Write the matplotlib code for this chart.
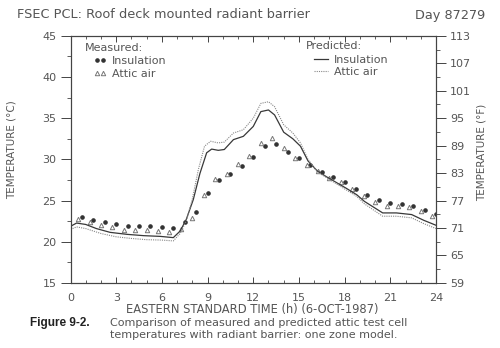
import numpy as np
import matplotlib
matplotlib.use("Agg")
import matplotlib.pyplot as plt
from matplotlib.ticker import MultipleLocator

# predicted curves
pred_ins_h = [0, 0.4, 1.0, 1.7, 2.6, 3.7, 4.8, 5.9, 6.75, 7.2, 7.6, 8.06, 8.5, 8.94,
              9.27, 9.7, 10.1, 10.7, 11.35, 12.0, 12.5, 13.0, 13.4, 14.0, 14.6, 15.1,
              15.6, 16.2, 16.8, 18.1, 18.8, 19.3, 20.5, 21.4, 22.4, 23.2, 24]
pred_ins_t = [21.87, 22.27, 22.1, 21.6, 21.14, 20.9, 20.74, 20.65, 20.5, 21.3, 22.7,
              25.1, 28.3, 30.8, 31.25, 31.1, 31.2, 32.4, 32.8, 34.0, 35.8, 36.0, 35.4,
              33.3, 32.5, 31.6, 29.8, 28.6, 27.9, 26.5, 25.7, 24.9, 23.5, 23.5, 23.3,
              22.6, 22.0]
pred_air_h = [0, 0.4, 1.0, 2.0, 3.0, 4.0, 5.0, 6.0, 6.75, 7.2, 7.6, 8.0, 8.4, 8.8,
              9.2, 9.7, 10.1, 10.7, 11.35, 12.0, 12.5, 13.0, 13.4, 14.0, 14.6, 15.1,
              15.6, 16.2, 16.8, 18.1, 18.8, 19.3, 20.5, 21.4, 22.4, 23.2, 24]
pred_air_t = [21.5, 21.8, 21.6, 21.0, 20.6, 20.4, 20.25, 20.2, 20.1, 21.0, 22.5, 25.2,
              28.8, 31.6, 32.2, 32.0, 32.1, 33.2, 33.6, 35.0, 36.8, 37.0, 36.4, 34.2,
              33.2, 32.0, 30.0, 28.5, 27.8, 26.3, 25.5, 24.6, 23.1, 23.1, 22.9, 22.2,
              21.6]

# measured, every 45 min
meas_air_h = np.arange(0.5, 24, 0.75)
meas_ins_h = meas_air_h + 0.25
meas_air_t = [22.76, 22.44, 22.07, 21.74, 21.47, 21.47, 21.47, 21.26, 21.14, 21.55,
              22.88, 25.71, 27.65, 28.26, 29.47, 30.36, 31.98, 32.54, 31.37, 30.16,
              29.35, 28.54, 27.74, 27.25, 26.40, 25.51, 24.78, 24.29, 24.29, 24.17,
              23.77, 23.08]
meas_ins_t = [23.0, 22.68, 22.44, 22.16, 21.95, 21.95, 21.95, 21.79, 21.71, 22.35,
              23.65, 25.92, 27.49, 28.26, 29.23, 30.28, 31.66, 31.90, 30.85, 30.16,
              29.27, 28.42, 27.81, 27.25, 26.40, 25.63, 25.02, 24.70, 24.58, 24.38,
              23.89, 23.37]

f_ticks = np.arange(59, 114, 6)

ink = '#444444'
txt = '#555555'
plt.rcParams['font.family'] = ['DejaVu Sans']

fig = plt.figure(figsize=(5, 3.48), dpi=100)
ax = fig.add_axes([0.141, 0.187, 0.731, 0.710])

m1, = ax.plot(meas_ins_h, meas_ins_t, ls='none', marker='o', ms=2.3, color='#333333')
m2, = ax.plot(meas_air_h, meas_air_t, ls='none', marker='^', ms=3.2, mfc='white',
              mec='#777777', mew=0.7)
p1, = ax.plot(pred_ins_h, pred_ins_t, color='#383838', lw=0.9)
p2, = ax.plot(pred_air_h, pred_air_t, color='#888888', lw=0.8, ls=(0, (1, 1)))

ax.set_xlim(0, 24)
ax.set_ylim(15, 45)
ax.xaxis.set_major_locator(MultipleLocator(3))
ax.xaxis.set_minor_locator(MultipleLocator(1))
ax.yaxis.set_major_locator(MultipleLocator(5))
ax.yaxis.set_minor_locator(MultipleLocator(2.5))
ax.tick_params(axis='x', which='both', direction='in', top=True, colors=ink,
               labelcolor=txt, labelsize=8, pad=7)
ax.tick_params(axis='x', which='major', length=4, width=0.7)
ax.tick_params(axis='x', which='minor', length=2.5, width=0.6)
ax.tick_params(axis='y', which='major', direction='out', length=7, width=0.7,
               colors=ink, labelcolor=txt, labelsize=8, pad=3)
ax.tick_params(axis='y', which='minor', direction='out', length=3, width=0.6, colors=ink)

ax2 = ax.twinx()
ax2.set_ylim(59, 113)
ax2.set_yticks(f_ticks)
ax2.set_yticks(f_ticks[:-1] + 3, minor=True)
ax2.tick_params(axis='y', which='major', direction='out', length=7, width=0.7,
                colors=ink, labelcolor=txt, labelsize=8, pad=3)
ax2.tick_params(axis='y', which='minor', direction='out', length=3, width=0.6, colors=ink)

for a in (ax, ax2):
    for s in a.spines.values():
        s.set_color(ink)
        s.set_linewidth(0.8)

leg1 = ax.legend([m1, m2], ['Insulation', 'Attic air'],
                 loc='upper left', frameon=False, numpoints=2,
                 fontsize=8, handlelength=1.1, handletextpad=0.5,
                 labelspacing=0.3, borderpad=0, borderaxespad=0,
                 bbox_to_anchor=(94 / 500, 1 - 56 / 348), bbox_transform=fig.transFigure)
for t in leg1.get_texts():
    t.set_color(txt)
leg2 = ax2.legend([p1, p2], ['Insulation', 'Attic air'],
                  loc='upper left', frameon=False,
                  fontsize=8, handlelength=1.3, handletextpad=0.5,
                  labelspacing=0.2, borderpad=0, borderaxespad=0,
                  bbox_to_anchor=(314 / 500, 1 - 55 / 348), bbox_transform=fig.transFigure)
for t in leg2.get_texts():
    t.set_color(txt)
fig.text(85 / 500, 1 - 48 / 348, 'Measured:', fontsize=8, color=txt, va='center')
fig.text(306 / 500, 1 - 46 / 348, 'Predicted:', fontsize=8, color=txt, va='center')

fig.text(17 / 500, 1 - 15 / 348, 'FSEC PCL: Roof deck mounted radiant barrier',
         fontsize=9.3, color=txt, va='center', ha='left')
fig.text(485 / 500, 1 - 15 / 348, 'Day 87279', fontsize=9.3, color=txt,
         va='center', ha='right')
fig.text(12 / 500, 1 - 150 / 348, 'TEMPERATURE (°C)', rotation=90, fontsize=7.5,
         color=txt, va='center', ha='center')
fig.text(482 / 500, 1 - 152 / 348, 'TEMPERATURE (°F)', rotation=90, fontsize=7.5,
         color=txt, va='center', ha='center')
fig.text(252 / 500, 1 - 310 / 348, 'EASTERN STANDARD TIME (h) (6-OCT-1987)',
         fontsize=8.3, color=txt, va='center', ha='center')
fig.text(30 / 500, 1 - 323 / 348, 'Figure 9-2.', fontsize=8.5, fontweight='bold',
         family='Liberation Sans', color='#222222', va='center', ha='left')
fig.text(110 / 500, 1 - 323 / 348, 'Comparison of measured and predicted attic test cell',
         fontsize=8, color=txt, va='center', ha='left')
fig.text(110 / 500, 1 - 335 / 348, 'temperatures with radiant barrier: one zone model.',
         fontsize=8, color=txt, va='center', ha='left')

fig.savefig('out.png', dpi=100, facecolor='white')
